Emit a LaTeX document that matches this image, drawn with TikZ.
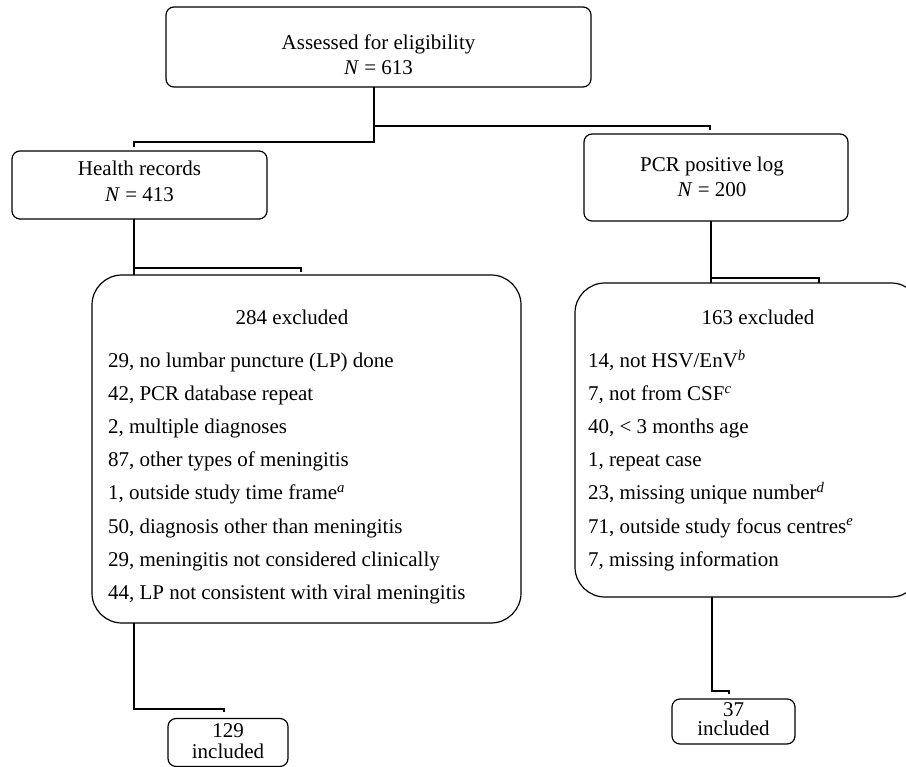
\documentclass[tikz,border=0pt]{standalone}
\usepackage{fontspec}
\setmainfont{Liberation Serif}
\begin{document}
\begin{tikzpicture}[x=1pt,y=-1pt,
  every node/.style={inner sep=0pt,outer sep=0pt,font=\fontsize{21}{25}\selectfont},
  box/.style={draw,line width=1.2pt,rounded corners=8pt},
  bigbox/.style={draw,line width=1.2pt,rounded corners=30pt},
  conn/.style={line width=1.2pt},
  txt/.style={anchor=base,align=center},
  item/.style={anchor=base west}]
\useasboundingbox (0,0) rectangle (906,767);
\clip (0,0) rectangle (906,767);
% boxes
\node[box,minimum width=425pt,minimum height=80pt] (top) at (378.5,47) {};
\node[box,minimum width=255pt,minimum height=68pt] (hr) at (139.5,185) {};
\node[box,minimum width=264pt,minimum height=87pt] (pcr) at (716,177.5) {};
\node[bigbox,minimum width=429pt,minimum height=348pt] (exl) at (306.5,449) {};
\node[bigbox,minimum width=346pt,minimum height=314pt] (exr) at (748,440) {};
\node[box,minimum width=120pt,minimum height=48pt] (inl) at (228,742.5) {};
\node[box,minimum width=123pt,minimum height=45pt] (inr) at (733.5,721.5) {};
% texts
\node[txt] (t1) at (378.5,50) {Assessed for eligibility};
\node[txt] (t2) at (378.5,75) {\textit{N} = 613};
\node[txt] (h1) at (139.5,176) {Health records};
\node[txt] (h2) at (139.5,202) {\textit{N} = 413};
\node[txt] (p1) at (712,172) {PCR positive log};
\node[txt] (p2) at (712,197) {\textit{N} = 200};
\node[txt] (lt) at (292,325) {284 excluded};
\node[item] (l1) at (108,368) {29, no lumbar puncture (LP) done};
\node[item] (l2) at (108,401) {42, PCR database repeat};
\node[item] (l3) at (108,434) {2, multiple diagnoses};
\node[item] (l4) at (108,467) {87, other types of meningitis};
\node[item] (l5) at (108,500) {1, outside study time frame\textsuperscript{\textit{a}}};
\node[item] (l6) at (108,533) {50, diagnosis other than meningitis};
\node[item] (l7) at (108,566) {29, meningitis not considered clinically};
\node[item] (l8) at (108,599) {44, LP not consistent with viral meningitis};
\node[txt] (rt) at (758,325) {163 excluded};
\node[item] (r1) at (588,368) {14, not HSV/EnV\textsuperscript{\textit{b}}};
\node[item] (r2) at (588,401) {7, not from CSF\textsuperscript{\textit{c}}};
\node[item] (r3) at (588,434) {40, < 3 months age};
\node[item] (r4) at (588,467) {1, repeat case};
\node[item] (r5) at (588,500) {23, missing unique number\textsuperscript{\textit{d}}};
\node[item] (r6) at (588,533) {71, outside study focus centres\textsuperscript{\textit{e}}};
\node[item] (r7) at (588,566) {7, missing information};
\node[txt] (il1) at (228,737) {129};
\node[txt] (il2) at (228,758) {included};
\node[txt] (ir1) at (733.5,716) {37};
\node[txt] (ir2) at (733.5,735) {included};
% junction coordinates
\coordinate (ja) at (374,142);
\coordinate (jb) at (374,126);
\coordinate (ka) at (134,142);
\coordinate (kb) at (710,126);
\coordinate (ma) at (134,268);
\coordinate (mb) at (301,268);
\coordinate (na) at (711,278);
\coordinate (nb) at (819,278);
\coordinate (oa) at (134,709);
\coordinate (ob) at (224,709);
\coordinate (qa) at (712,691);
\coordinate (qb) at (729,691);
% connectors
\draw[conn] (top.south -| ja) -- (ja) -- (ka) -- ++(0,5);
\draw[conn] (jb) -- (kb) -- ++(0,4);
\draw[conn] (hr.south -| ma) -- (exl.north -| ma);
\draw[conn] (ma) -- (mb) -- ++(0,4);
\draw[conn] (pcr.south -| na) -- (exr.north -| na);
\draw[conn] (na) -- (nb) -- (exr.north -| nb);
\draw[conn] (exl.south -| oa) -- (oa) -- (ob) -- ++(0,3);
\draw[conn] (exr.south -| qa) -- (qa) -- (qb) -- ++(0,3);
\end{tikzpicture}
\end{document}
